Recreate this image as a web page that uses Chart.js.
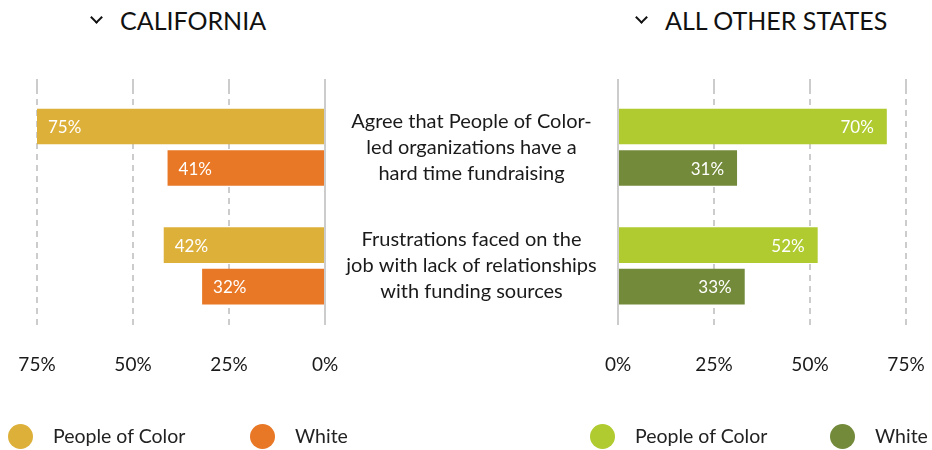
<!DOCTYPE html>
<html><head><meta charset="utf-8">
<script src="https://cdn.jsdelivr.net/npm/chart.js@4/dist/chart.umd.min.js"></script>
<style>
html,body{margin:0;padding:0;background:#fff;}
#wrap{position:relative;width:932px;height:450px;overflow:hidden;font-family:Lato,'Open Sans',sans-serif;}
#wrap canvas{position:absolute;top:0;}
.title{position:absolute;top:5px;font-size:25px;line-height:30px;color:#111;white-space:nowrap;}
.chev{position:absolute;width:7px;height:7px;border-right:2.5px solid #111;border-bottom:2.5px solid #111;transform:rotate(45deg);}
.leg{position:absolute;top:424px;height:26px;font-size:19.5px;line-height:26px;color:#222;white-space:nowrap;}
.dot{position:absolute;top:0;width:25px;height:25px;border-radius:50%;}
.legtxt{position:absolute;top:-1px;}
</style>
</head><body>
<div id="wrap">
  <div class="chev" style="left:92px;top:13px"></div>
  <div class="title" style="left:120px">CALIFORNIA</div>
  <div class="chev" style="left:637px;top:13px"></div>
  <div class="title" style="left:665px">ALL OTHER STATES</div>
  <canvas id="left" width="466" height="450" style="left:0;width:466px;height:450px"></canvas>
  <canvas id="right" width="607" height="450" style="left:325px;width:607px;height:450px"></canvas>
  <div id="legends"></div>
</div>
<script>
// ---- data ----
const categories = [
  ["Agree that People of Color-", "led organizations have a", "hard time fundraising"],
  ["Frustrations faced on the", "job with lack of relationships", "with funding sources"]
];
const seriesNames = ["People of Color", "White"];
const californiaPOC = [75, 42];
const californiaWhite = [41, 32];
const otherStatesPOC = [70, 52];
const otherStatesWhite = [31, 33];
const tickValues = [0, 25, 50, 75];

// ---- styles ----
const colorsCA = ["#DDB03A", "#E87726"];
const colorsOS = ["#AFCB2F", "#738A3A"];
const FONT = "Lato, 'Open Sans', sans-serif";
const gridColor = "#cccccc";

const valueLabels = {
  id: 'valueLabels',
  afterDatasetsDraw(chart, args, opts) {
    const ctx = chart.ctx;
    ctx.save();
    ctx.font = "17px " + FONT;
    ctx.fillStyle = "#ffffff";
    ctx.textBaseline = "middle";
    chart.data.datasets.forEach((ds, i) => {
      chart.getDatasetMeta(i).data.forEach((bar, j) => {
        const t = ds.data[j] + "%";
        if (opts.side === 'left') { ctx.textAlign = "left"; ctx.fillText(t, bar.x + 11, bar.y + 1); }
        else { ctx.textAlign = "right"; ctx.fillText(t, bar.x - 13, bar.y + 1); }
      });
    });
    ctx.restore();
  }
};

function xScales(reverse) {
  const dash = c => (c.tick && c.tick.value === 0) ? [] : [6, 5];
  return {
    x: {
      type: 'linear', position: 'bottom', min: tickValues[0], max: tickValues[tickValues.length - 1], reverse,
      afterBuildTicks: s => { s.ticks = tickValues.map(v => ({ value: v })); },
      afterFit: s => { s.paddingLeft = Math.min(s.paddingLeft, 20); s.paddingRight = Math.min(s.paddingRight, 20); },
      ticks: { callback: v => v + "%", padding: 28, color: "#1a1a1a", font: { family: FONT, size: 19 } },
      grid: { color: gridColor, lineWidth: 2, drawTicks: false },
      border: { display: false, dash }
    },
    x2: {
      type: 'linear', position: 'top', min: tickValues[0], max: tickValues[tickValues.length - 1], reverse,
      afterBuildTicks: s => { s.ticks = tickValues.map(v => ({ value: v })); },
      ticks: { display: false },
      grid: { color: gridColor, lineWidth: 2, drawOnChartArea: false, drawTicks: true, tickLength: 9 },
      border: { display: false, dash }
    }
  };
}

function datasets(a, b, colors) {
  return [
    { label: seriesNames[0], data: a, backgroundColor: colors[0], categoryPercentage: 0.7, barPercentage: 36 / 42, xAxisID: 'x' },
    { label: seriesNames[1], data: b, backgroundColor: colors[1], categoryPercentage: 0.7, barPercentage: 36 / 42, xAxisID: 'x' }
  ];
}

const common = {
  indexAxis: 'y', responsive: false, animation: false,
  plugins: { legend: { display: false }, tooltip: { enabled: false } }
};

// left (California) chart
new Chart(document.getElementById('left'), {
  type: 'bar',
  data: { labels: categories, datasets: datasets(californiaPOC, californiaWhite, colorsCA) },
  options: Object.assign({}, common, {
    layout: { padding: { left: 37, right: 141, top: 79, bottom: 46 } },
    plugins: Object.assign({}, common.plugins, { valueLabels: { side: 'left' } }),
    scales: Object.assign(xScales(true), { y: { display: false } })
  }),
  plugins: [valueLabels]
});

// measure category labels for centring
const CAT_SIZE = 20;
const mctx = document.createElement('canvas').getContext('2d');
mctx.font = CAT_SIZE + "px " + FONT;
let widest = 0;
categories.forEach(c => c.forEach(l => { widest = Math.max(widest, mctx.measureText(l).width); }));
const AXIS_W = 293;
const labelPad = AXIS_W / 2 - widest / 2;

new Chart(document.getElementById('right'), {
  type: 'bar',
  data: { labels: categories, datasets: datasets(otherStatesPOC, otherStatesWhite, colorsOS) },
  options: Object.assign({}, common, {
    layout: { padding: { left: 0, right: 26, top: 79, bottom: 46 } },
    plugins: Object.assign({}, common.plugins, { valueLabels: { side: 'right' } }),
    scales: Object.assign(xScales(false), {
      y: {
        position: 'left',
        afterFit: s => { s.width = AXIS_W; },
        ticks: { crossAlign: 'center', padding: labelPad, color: "#1a1a1a", font: { family: FONT, size: CAT_SIZE, lineHeight: 1.3 } },
        grid: { display: false, drawTicks: false },
        border: { display: false }
      }
    })
  }),
  plugins: [valueLabels]
});

// legends
const legendSpec = [
  { x: 8, name: seriesNames[0], color: colorsCA[0] },
  { x: 250, name: seriesNames[1], color: colorsCA[1] },
  { x: 590, name: seriesNames[0], color: colorsOS[0] },
  { x: 830, name: seriesNames[1], color: colorsOS[1] }
];
const lg = document.getElementById('legends');
legendSpec.forEach(s => {
  const d = document.createElement('div');
  d.className = 'leg';
  d.style.left = s.x + 'px';
  d.innerHTML = '<div class="dot" style="left:0;background:' + s.color + '"></div><div class="legtxt" style="left:45px">' + s.name + '</div>';
  lg.appendChild(d);
});
</script>
</body></html>
